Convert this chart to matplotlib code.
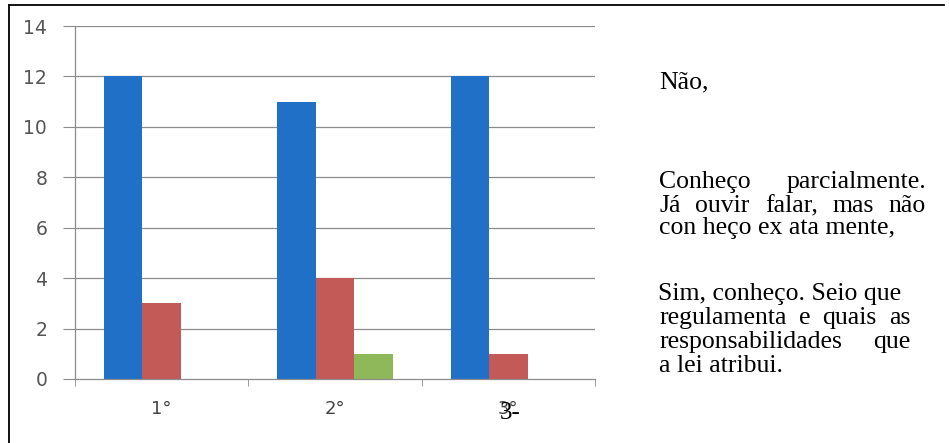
import matplotlib
matplotlib.use("Agg")
import matplotlib.pyplot as plt
from matplotlib.lines import Line2D
import numpy as np

# Data
categories = ["1°", "2°", "3°"]
nao = [12, 11, 12]
parcial = [3, 4, 1]
sim = [0, 1, 0]
yticks = [0, 2, 4, 6, 8, 10, 12, 14]

W, H = 949, 443
DPI = 100
fig = plt.figure(figsize=(W / DPI, H / DPI), dpi=DPI)
fig.patch.set_facecolor("white")

def px(x, y):
    return x / W, 1 - y / H

# axes: x from 75 to 595 px, y from 26 (14) to 379 (0)
x0, x1, ytop, ybot = 75, 595, 26, 379
ax = fig.add_axes([x0 / W, 1 - ybot / H, (x1 - x0) / W, (ybot - ytop) / H])
ax.set_xlim(-0.5, 2.5)
ax.set_ylim(0, 14)

grid_col = "#8c8c8c"
for v in yticks[1:]:
    ax.axhline(v, color=grid_col, lw=0.9, zorder=0)

w = 0.222
x = np.arange(len(categories))
ax.bar(x - w, nao, width=w, color="#2170c8", zorder=2)
ax.bar(x, parcial, width=w, color="#c45a57", zorder=2)
ax.bar(x + w, sim, width=w, color="#8fb85a", zorder=2)

for s in ["top", "right"]:
    ax.spines[s].set_visible(False)
ax.spines["left"].set_color(grid_col)
ax.spines["bottom"].set_color(grid_col)
ax.spines["left"].set_linewidth(0.9)
ax.spines["bottom"].set_linewidth(0.9)

ax.set_yticks(yticks)
ax.set_yticklabels([str(v) for v in yticks], color="#555555", fontsize=13.5,
                   family="DejaVu Sans")
ax.tick_params(axis="y", length=9, color=grid_col, pad=11)
ax.set_xticks([-0.5, 0.5, 1.5, 2.5], minor=True)
ax.set_xticks(x)
ax.set_xticklabels(categories, color="#444444", fontsize=13, family="DejaVu Sans")
ax.tick_params(axis="x", which="major", length=0, pad=15)
ax.tick_params(axis="x", which="minor", length=5, color=grid_col, direction="out")

# overprinted label beneath the third category
fx, fy = px(510, 413)
fig.text(fx, fy, "3-", family="Liberation Serif", fontsize=18, color="black",
         ha="center", va="center")

# frame lines (top and left)
fig.add_artist(Line2D([9 / W, 944 / W], [1 - 5 / H, 1 - 5 / H], color="black",
                      lw=1.3, transform=fig.transFigure))
fig.add_artist(Line2D([9 / W, 9 / W], [1 - 5 / H, 0], color="black",
                      lw=1.3, transform=fig.transFigure))

# text block on the right
FONT = dict(family="Liberation Serif", fontsize=18.5, color="black", va="center")
renderer = fig.canvas.get_renderer()

def put(text, xl, y):
    fx, fy = px(xl, y)
    return fig.text(fx, fy, text, ha="left", **FONT)

def justify(words, xl, xr, y):
    arts = [put(wd, xl, y) for wd in words]
    widths = [a.get_window_extent(renderer).width for a in arts]
    gap = (xr - xl - sum(widths)) / (len(words) - 1)
    pos = xl
    for a, wdt in zip(arts, widths):
        a.set_x(pos / W)
        pos += wdt + gap

put("Não,", 659, 82)
justify(["Conheço", "parcialmente."], 659, 926, 182)
justify(["Já", "ouvir", "falar,", "mas", "não"], 659, 926, 206)
put("con heço ex ata mente,", 659, 228)
put("Sim, conheço. Seio que", 658, 294)
justify(["regulamenta", "e", "quais", "as"], 659, 910, 318)
justify(["responsabilidades", "que"], 659, 910, 342)
put("a lei atribui.", 659, 366)

fig.savefig("out.png", dpi=DPI, facecolor="white")
